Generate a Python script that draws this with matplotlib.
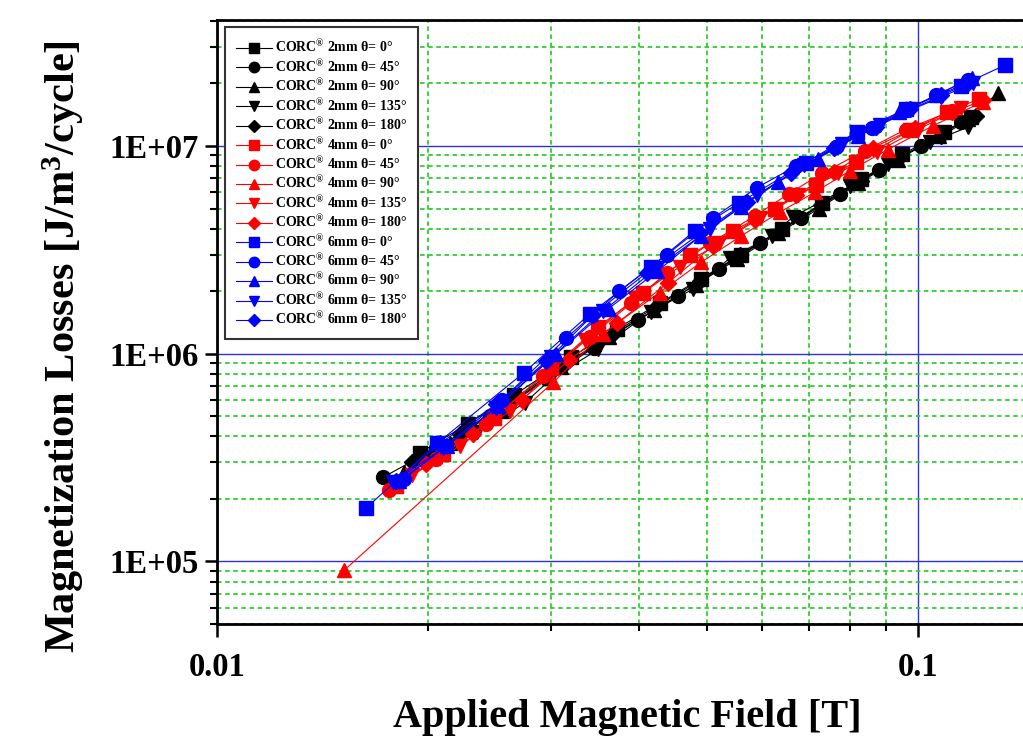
import numpy as np
import matplotlib
matplotlib.use("Agg")
import matplotlib.pyplot as plt
from matplotlib.ticker import LogLocator, NullFormatter

plt.rcParams['font.family'] = ['Liberation Serif', 'DejaVu Serif']
plt.rcParams['font.weight'] = 'bold'
plt.rcParams['mathtext.fontset'] = 'custom'
plt.rcParams['mathtext.rm'] = 'Liberation Serif:bold'
plt.rcParams['mathtext.default'] = 'rm'

# applied field [T] and loss per cycle [J/m3] for each cable / angle
x_2mm_0 = [0.0195, 0.0228, 0.0265, 0.0320, 0.0372, 0.0428, 0.0490, 0.0560, 0.0640, 0.0730, 0.0830, 0.0950, 0.1090, 0.1190]
y_2mm_0 = [3.34e5, 4.6e5, 6.3e5, 9.6e5, 1.32e6, 1.75e6, 2.3e6, 3.0e6, 4.0e6, 5.3e6, 6.9e6, 9.1e6, 1.17e7, 1.38e7]
x_2mm_45 = [0.01725, 0.0205, 0.0245, 0.0295, 0.0345, 0.0398, 0.0455, 0.0520, 0.0595, 0.0680, 0.0775, 0.0880, 0.1010, 0.1150]
y_2mm_45 = [2.54e5, 3.5e5, 5.0e5, 7.6e5, 1.07e6, 1.45e6, 1.9e6, 2.55e6, 3.4e6, 4.5e6, 5.9e6, 7.7e6, 1.0e7, 1.3e7]
x_2mm_90 = [0.0185, 0.0215, 0.0255, 0.0310, 0.0362, 0.0420, 0.0482, 0.0552, 0.0632, 0.0722, 0.0822, 0.0935, 0.1070, 0.1180, 0.1300]
y_2mm_90 = [2.7e5, 3.7e5, 5.3e5, 8.6e5, 1.2e6, 1.62e6, 2.15e6, 2.85e6, 3.8e6, 5.0e6, 6.6e6, 8.6e6, 1.12e7, 1.35e7, 1.8e7]
x_2mm_135 = [0.0200, 0.0235, 0.0275, 0.0300, 0.0350, 0.0416, 0.0478, 0.0540, 0.0620, 0.0663, 0.0800, 0.0905, 0.1040, 0.1177]
y_2mm_135 = [3.1e5, 4.2e5, 5.8e5, 7.6e5, 1.05e6, 1.59e6, 2.05e6, 2.9e6, 3.7e6, 4.56e6, 6.4e6, 8.2e6, 1.04e7, 1.23e7]
x_2mm_180 = [0.0190, 0.0222, 0.0260, 0.0315, 0.0368, 0.0425, 0.0488, 0.0558, 0.0638, 0.0728, 0.0828, 0.0940, 0.1080, 0.1210]
y_2mm_180 = [3.0e5, 4.1e5, 5.8e5, 9.0e5, 1.26e6, 1.7e6, 2.25e6, 3.0e6, 3.95e6, 5.2e6, 6.8e6, 8.8e6, 1.12e7, 1.4e7]

x_4mm_0 = [0.0180, 0.0210, 0.0248, 0.0300, 0.0350, 0.0405, 0.0473, 0.0545, 0.0625, 0.0715, 0.0815, 0.0975, 0.1100, 0.1220]
y_4mm_0 = [2.3e5, 3.3e5, 4.9e5, 8.5e5, 1.35e6, 1.95e6, 3.0e6, 3.9e6, 5.0e6, 6.5e6, 8.4e6, 1.19e7, 1.45e7, 1.68e7]
x_4mm_45 = [0.0176, 0.0205, 0.0242, 0.0292, 0.0340, 0.0390, 0.0438, 0.0505, 0.0585, 0.0655, 0.0730, 0.0840, 0.0960, 0.1120]
y_4mm_45 = [2.2e5, 3.1e5, 4.6e5, 7.8e5, 1.2e6, 1.75e6, 2.45e6, 3.4e6, 4.6e6, 5.9e6, 7.4e6, 9.5e6, 1.2e7, 1.48e7]
x_4mm_90 = [0.0152, 0.0302, 0.0355, 0.0428, 0.0490, 0.0560, 0.0635, 0.0713, 0.0800, 0.0905, 0.1050, 0.1237]
y_4mm_90 = [9.1e4, 7.3e5, 1.25e6, 1.97e6, 2.75e6, 3.7e6, 4.8e6, 6.0e6, 7.6e6, 9.6e6, 1.25e7, 1.63e7]
x_4mm_135 = [0.0190, 0.0222, 0.0262, 0.0335, 0.0395, 0.0457, 0.0520, 0.0595, 0.0675, 0.0770, 0.0875, 0.1000, 0.1150]
y_4mm_135 = [2.6e5, 3.6e5, 5.3e5, 1.17e6, 1.85e6, 2.62e6, 3.4e6, 4.5e6, 5.8e6, 7.4e6, 9.4e6, 1.2e7, 1.52e7]
x_4mm_180 = [0.0199, 0.0232, 0.0272, 0.0318, 0.0372, 0.0440, 0.0510, 0.0585, 0.0670, 0.0760, 0.0862, 0.0990, 0.1120, 0.1237]
y_4mm_180 = [2.96e5, 4.1e5, 6.0e5, 9.3e5, 1.4e6, 2.2e6, 3.3e6, 4.4e6, 5.8e6, 7.5e6, 9.8e6, 1.22e7, 1.45e7, 1.66e7]

x_6mm_0 = [0.0163, 0.0206, 0.0274, 0.0340, 0.0416, 0.0480, 0.0555, 0.0692, 0.0818, 0.0960, 0.1150, 0.1331]
y_6mm_0 = [1.8e5, 3.7e5, 8.1e5, 1.55e6, 2.62e6, 3.9e6, 5.3e6, 8.3e6, 1.17e7, 1.5e7, 1.95e7, 2.45e7]
x_6mm_45 = [0.0185, 0.0212, 0.0255, 0.0315, 0.0375, 0.0438, 0.0510, 0.0589, 0.0670, 0.0765, 0.0860, 0.0964, 0.1060, 0.1177]
y_6mm_45 = [2.5e5, 3.6e5, 6.0e5, 1.19e6, 2.0e6, 2.99e6, 4.5e6, 6.3e6, 8.0e6, 9.9e6, 1.22e7, 1.49e7, 1.75e7, 2.08e7]
x_6mm_90 = [0.0182, 0.0213, 0.0252, 0.0305, 0.0362, 0.0425, 0.0490, 0.0560, 0.0632, 0.0720, 0.0820, 0.0940, 0.1060, 0.1193]
y_6mm_90 = [2.44e5, 3.6e5, 5.6e5, 1.0e6, 1.65e6, 2.5e6, 3.7e6, 5.1e6, 6.7e6, 8.7e6, 1.12e7, 1.45e7, 1.75e7, 2.12e7]
x_6mm_135 = [0.0178, 0.0210, 0.0250, 0.0300, 0.0355, 0.0425, 0.0505, 0.0590, 0.0688, 0.0780, 0.0883, 0.0980, 0.1080, 0.1200]
y_6mm_135 = [2.4e5, 3.5e5, 5.5e5, 9.6e5, 1.6e6, 2.6e6, 4.0e6, 5.8e6, 8.1e6, 1.02e7, 1.26e7, 1.5e7, 1.72e7, 2.02e7]
x_6mm_180 = [0.0180, 0.0208, 0.0250, 0.0295, 0.0344, 0.0410, 0.0489, 0.0570, 0.0660, 0.0760, 0.0870, 0.0975, 0.1080, 0.1177]
y_6mm_180 = [2.45e5, 3.7e5, 5.7e5, 9.2e5, 1.54e6, 2.45e6, 3.8e6, 5.4e6, 7.4e6, 9.8e6, 1.24e7, 1.5e7, 1.75e7, 2.0e7]

series = [
    ("2mm", 0, x_2mm_0, y_2mm_0), ("2mm", 45, x_2mm_45, y_2mm_45), ("2mm", 90, x_2mm_90, y_2mm_90),
    ("2mm", 135, x_2mm_135, y_2mm_135), ("2mm", 180, x_2mm_180, y_2mm_180),
    ("4mm", 0, x_4mm_0, y_4mm_0), ("4mm", 45, x_4mm_45, y_4mm_45), ("4mm", 90, x_4mm_90, y_4mm_90),
    ("4mm", 135, x_4mm_135, y_4mm_135), ("4mm", 180, x_4mm_180, y_4mm_180),
    ("6mm", 0, x_6mm_0, y_6mm_0), ("6mm", 45, x_6mm_45, y_6mm_45), ("6mm", 90, x_6mm_90, y_6mm_90),
    ("6mm", 135, x_6mm_135, y_6mm_135), ("6mm", 180, x_6mm_180, y_6mm_180),
]
colors = {"2mm": "#000000", "4mm": "#ff0000", "6mm": "#0000ff"}
markers = {0: "s", 45: "o", 90: "^", 135: "v", 180: "D"}
msizes = {0: 9.5, 45: 10, 90: 10.5, 135: 10.5, 180: 8.5}

fig = plt.figure(figsize=(10.23, 7.37), dpi=100)
ax = fig.add_axes([217/1023, 113/737, 823/1023, 604/737])

for size, ang, xs, ys in series:
    ax.plot(xs, ys, color=colors[size], marker=markers[ang], ms=msizes[ang], lw=0.8,
            label=r"CORC$^{\mathrm{®}}$ " + size + " θ= " + str(ang) + "°")

ax.set_xscale("log")
ax.set_yscale("log")
ax.set_xlim(0.01, 0.1493)
ax.set_ylim(5.0e4, 4.04e7)

ax.xaxis.set_minor_locator(LogLocator(base=10, subs=np.arange(2, 10)))
ax.yaxis.set_minor_locator(LogLocator(base=10, subs=np.arange(2, 10)))
ax.xaxis.set_minor_formatter(NullFormatter())
ax.yaxis.set_minor_formatter(NullFormatter())
ax.set_xticks([0.01, 0.1])
ax.set_xticklabels(["0.01", "0.1"])
ax.set_yticks([1e5, 1e6, 1e7])
ax.set_yticklabels(["1E+05", "1E+06", "1E+07"])

ax.grid(True, which="major", color="#2f2fd6", lw=1.0, ls="-")
ax.grid(True, which="minor", color="#33cc33", lw=1.3, ls=(0, (2.5, 2)))
ax.set_axisbelow(True)

for sp in ax.spines.values():
    sp.set_linewidth(2)
ax.tick_params(which="major", direction="out", length=9, width=1.8, labelsize=23.5, pad=4)
ax.tick_params(which="minor", direction="out", length=5, width=1.5)
ax.tick_params(axis="x", which="major", pad=11)

fig.text(63/1023, 1 - 347/737, r"Magnetization Losses [J/m$^{\mathrm{3}}$/cycle]",
         rotation=90, ha="center", va="center", fontsize=30.5, fontweight="bold")
fig.text(627/1023, 10/737, "Applied Magnetic Field [T]", ha="center", va="baseline",
         fontsize=29, fontweight="bold")

leg = ax.legend(loc="upper left", bbox_to_anchor=(0.010, 0.988), borderaxespad=0,
                fontsize=10, markerscale=0.75, labelspacing=0.15, handlelength=2.6,
                handleheight=0.6, handletextpad=0.2, borderpad=0.8, fancybox=False,
                framealpha=1)
leg.get_frame().set_edgecolor("#333333")
leg.get_frame().set_linewidth(1.5)

fig.savefig("out.png", dpi=100)
